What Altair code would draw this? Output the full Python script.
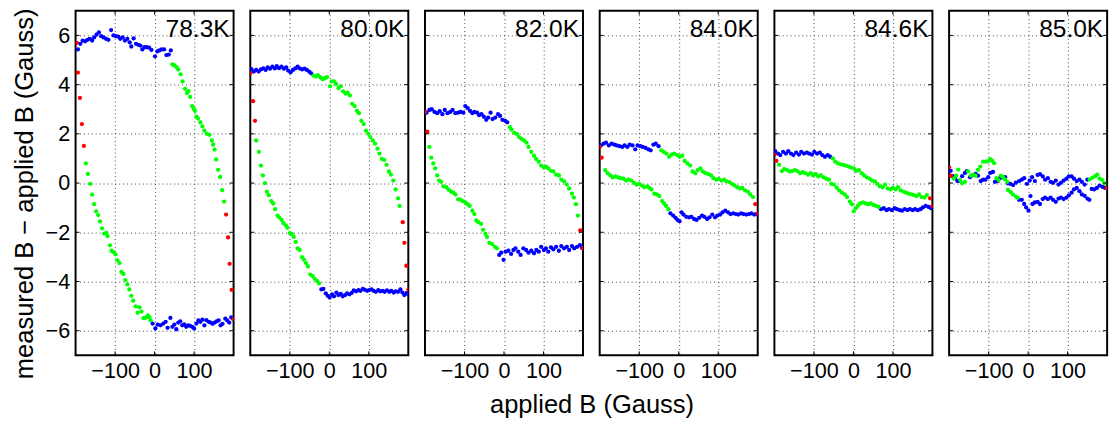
import altair as alt
import pandas as pd

FONT = "Liberation Sans"

panel_labels = ["78.3K", "80.0K", "82.0K", "84.0K", "84.6K", "85.0K"]
x_ticks = [-100, 0, 100]
y_ticks = [-6, -4, -2, 0, 2, 4, 6]
x_title = "applied B (Gauss)"
y_title = "measured B \u2212 applied B (Gauss)"

# ---------------- 78.3K ----------------
red_783 = [(-197, 5.70), (-194, 4.49), (-189, 3.46), (-184, 2.40), (-179, 1.51),
           (181, -1.28), (186, -2.21), (190, -3.28), (195, -4.34), (200, -5.52)]
blue_783 = [(-194, 5.43), (-188, 5.66), (-182, 5.79), (-176, 5.76), (-170, 5.82), (-164, 5.86),
            (-158, 5.79), (-153, 5.92), (-147, 6.03), (-141, 6.12), (-135, 5.97), (-129, 5.92),
            (-123, 5.86), (-117, 5.82), (-110, 6.22), (-104, 6.00), (-98, 5.97), (-92, 5.95),
            (-87, 5.86), (-81, 5.92), (-75, 5.79), (-69, 5.86), (-63, 5.72), (-59, 5.55),
            (-53, 5.88), (-47, 5.66), (-41, 5.62), (-36, 5.59), (-31, 5.43), (-26, 5.52),
            (-20, 5.52), (-14, 5.50), (-8, 5.41), (1, 5.15), (7, 5.35), (12, 5.39), (18, 5.43),
            (24, 5.43), (30, 5.20), (36, 5.22), (41, 5.39),
            (199, -5.52), (194, -5.46), (189, -5.67), (184, -5.58), (179, -5.51), (172, -5.72),
            (167, -5.78), (162, -5.58), (157, -5.62), (152, -5.67), (147, -5.72), (142, -5.67),
            (137, -5.64), (131, -5.57), (126, -5.78), (121, -5.55), (116, -5.64), (111, -5.58),
            (106, -5.71), (100, -5.91), (95, -5.84), (90, -5.80), (85, -5.78), (80, -5.84),
            (75, -5.74), (70, -5.78), (65, -5.62), (60, -5.67), (55, -5.94), (50, -5.75),
            (45, -5.84), (40, -5.48), (33, -5.88), (28, -5.64), (22, -5.71), (15, -5.78),
            (8, -5.75), (2, -5.91), (-5, -5.71)]
green_783 = [(45, 4.82), (50, 4.78), (55, 4.72), (60, 4.62), (66, 4.42), (71, 4.13), (77, 3.83),
             (82, 3.66), (86, 3.74), (90, 3.50), (95, 3.13), (99, 3.02), (102, 2.93), (106, 2.70),
             (110, 2.62), (116, 2.47), (121, 2.30), (126, 2.13), (132, 2.00), (139, 1.96),
             (145, 1.73), (148, 1.56), (152, 1.36), (156, 0.96), (161, 0.54), (166, 0.25),
             (171, -0.29), (176, -0.75),
             (-10, -5.58), (-13, -5.45), (-17, -5.38), (-22, -5.47), (-28, -5.49), (-33, -5.22),
             (-38, -5.05), (-43, -5.27), (-48, -5.01), (-54, -4.78), (-59, -4.58), (-64, -4.32),
             (-69, -4.12), (-74, -3.94), (-79, -3.69), (-84, -3.61), (-89, -3.25), (-94, -3.14),
             (-99, -2.90), (-104, -2.81), (-109, -2.75), (-113, -2.53), (-119, -2.16),
             (-122, -2.02), (-128, -2.05), (-133, -1.84), (-138, -1.56), (-143, -1.30),
             (-148, -1.15), (-153, -0.86), (-158, -0.47), (-163, -0.03), (-169, 0.37), (-174, 0.80)]

# ---------------- 80.0K ----------------
red_800 = [(-200, 4.46), (-193, 3.33), (-188, 2.53), (186, -1.59), (190, -2.43), (195, -3.36),
           (200, -4.34)]
blue_800 = [(-197, 4.63), (-191, 4.53), (-185, 4.60), (-179, 4.53), (-173, 4.62), (-167, 4.66),
            (-161, 4.60), (-156, 4.70), (-150, 4.65), (-144, 4.73), (-138, 4.66), (-133, 4.75),
            (-127, 4.67), (-121, 4.73), (-115, 4.65), (-109, 4.70), (-104, 4.57), (-98, 4.50),
            (-92, 4.60), (-86, 4.66), (-80, 4.73), (-75, 4.66), (-69, 4.62), (-63, 4.65),
            (-57, 4.60), (-51, 4.53), (-46, 4.46),
            (200, -4.52), (195, -4.47), (190, -4.55), (185, -4.45), (180, -4.32), (174, -4.42),
            (168, -4.40), (163, -4.45), (157, -4.38), (152, -4.42), (146, -4.36), (140, -4.42),
            (135, -4.38), (129, -4.40), (124, -4.35), (118, -4.42), (112, -4.38), (107, -4.32),
            (101, -4.35), (96, -4.38), (90, -4.34), (85, -4.30), (79, -4.38), (74, -4.35),
            (68, -4.40), (62, -4.36), (57, -4.46), (51, -4.52), (45, -4.48), (40, -4.55),
            (34, -4.60), (29, -4.50), (23, -4.55), (18, -4.45), (12, -4.60), (7, -4.52),
            (1, -4.65), (-4, -4.58), (-9, -4.48), (-15, -4.30), (-20, -4.32)]
green_800 = [(-40, 4.37), (-34, 4.33), (-29, 4.39), (-23, 4.30), (-17, 4.22), (-12, 4.26),
             (-6, 4.30), (2, 3.93), (6, 4.13), (12, 4.13), (17, 4.03), (23, 3.86), (29, 3.93),
             (35, 3.73), (41, 3.64), (46, 3.68), (52, 3.56), (58, 3.22), (64, 3.13), (70, 2.93),
             (75, 2.84), (81, 2.53), (87, 2.40), (93, 2.13), (99, 2.00), (104, 1.87), (110, 1.73),
             (116, 1.60), (122, 1.40), (127, 1.20), (133, 0.98), (139, 0.94), (145, 0.74),
             (151, 0.47), (156, 0.34), (162, 0.10), (168, -0.26), (174, -0.62), (178, -0.93),
             (-26, -4.08), (-31, -3.98), (-37, -3.89), (-42, -3.78), (-48, -3.72), (-54, -3.39),
             (-59, -3.25), (-64, -3.12), (-69, -3.01), (-75, -2.72), (-80, -2.65), (-85, -2.39),
             (-90, -2.19), (-95, -2.06), (-100, -2.03), (-106, -1.82), (-110, -1.72),
             (-116, -1.63), (-121, -1.50), (-127, -1.39), (-131, -1.32), (-137, -1.06),
             (-142, -0.83), (-147, -0.73), (-153, -0.49), (-158, -0.35), (-163, 0.00),
             (-168, 0.31), (-173, 0.71), (-178, 1.27), (-185, 1.73)]

# ---------------- 82.0K ----------------
red_820 = [(-200, 2.89), (-194, 2.09), (193, -1.92), (199, -2.65)]
blue_820 = [(-196, 2.86), (-189, 2.97), (-183, 3.00), (-176, 2.89), (-169, 2.84), (-163, 2.92),
            (-156, 2.80), (-150, 2.97), (-143, 2.84), (-136, 2.89), (-130, 2.97), (-123, 2.84),
            (-116, 2.86), (-110, 2.89), (-103, 2.86), (-98, 3.13), (-92, 3.05), (-86, 2.93),
            (-80, 2.84), (-75, 2.89), (-68, 2.86), (-63, 2.76), (-57, 2.80), (-51, 2.70),
            (-45, 2.57), (-40, 2.66), (-34, 2.86), (-29, 2.60), (-22, 2.66), (-15, 2.80),
            (-10, 2.73), (-4, 2.57), (3, 2.53), (8, 2.47),
            (-12, -2.92), (-7, -2.83), (-1, -3.12), (4, -2.79), (11, -2.75), (18, -2.88),
            (24, -2.72), (29, -2.65), (36, -2.79), (42, -2.92), (49, -2.65), (56, -2.72),
            (62, -2.83), (69, -2.75), (76, -2.85), (82, -2.72), (88, -2.79), (94, -2.59),
            (101, -2.72), (106, -2.65), (112, -2.79), (119, -2.61), (125, -2.69), (132, -2.59),
            (139, -2.75), (145, -2.56), (152, -2.65), (159, -2.59), (165, -2.72), (172, -2.56),
            (178, -2.65), (185, -2.59), (192, -2.52), (197, -2.63)]
green_820 = [(15, 2.27), (19, 2.17), (26, 2.04), (33, 1.99), (38, 1.87), (44, 1.80), (51, 1.73),
             (57, 1.64), (62, 1.47), (69, 1.27), (76, 1.11), (81, 0.98), (88, 0.87), (94, 0.71),
             (101, 0.63), (106, 0.67), (112, 0.60), (119, 0.50), (125, 0.47), (132, 0.34),
             (139, 0.31), (145, 0.14), (152, 0.07), (159, -0.06), (165, -0.22), (172, -0.43),
             (177, -0.59), (182, -0.86), (187, -1.32),
             (-18, -2.65), (-23, -2.59), (-30, -2.48), (-37, -2.43), (-43, -2.19), (-47, -2.06),
             (-53, -1.90), (-58, -1.66), (-65, -1.59), (-70, -1.52), (-75, -1.26), (-80, -1.12),
             (-87, -0.93), (-92, -0.86), (-98, -0.79), (-105, -0.73), (-110, -0.67),
             (-116, -0.66), (-123, -0.46), (-128, -0.39), (-134, -0.35), (-140, -0.27),
             (-146, -0.17), (-153, -0.13), (-159, 0.05), (-164, 0.10), (-169, 0.31),
             (-174, 0.60), (-179, 0.80), (-184, 1.03), (-189, 1.47)]

# ---------------- 84.0K ----------------
red_840 = [(-200, 1.47), (-195, 1.03), (194, -0.86), (200, -1.24)]
blue_840 = [(-197, 1.53), (-190, 1.60), (-184, 1.64), (-177, 1.53), (-170, 1.60), (-163, 1.56),
            (-157, 1.53), (-150, 1.50), (-143, 1.47), (-137, 1.53), (-130, 1.47), (-124, 1.56),
            (-117, 1.53), (-110, 1.37), (-104, 1.53), (-97, 1.50), (-91, 1.47), (-84, 1.43),
            (-77, 1.37), (-71, 1.33), (-64, 1.56), (-58, 1.60), (-51, 1.50),
            (196, -1.26), (191, -1.28), (184, -1.23), (178, -1.26), (171, -1.28), (164, -1.26),
            (158, -1.23), (151, -1.28), (145, -1.26), (138, -1.23), (131, -1.26), (125, -1.19),
            (118, -1.12), (111, -1.19), (105, -1.28), (98, -1.32), (92, -1.39), (85, -1.28),
            (78, -1.39), (72, -1.46), (65, -1.37), (59, -1.32), (52, -1.41), (45, -1.50),
            (39, -1.46), (32, -1.37), (26, -1.39), (19, -1.37), (12, -1.28), (7, -1.19),
            (2, -1.55), (-3, -1.50), (-8, -1.41), (-14, -1.32), (-21, -1.23)]
green_840 = [(-44, 1.33), (-38, 1.27), (-31, 1.20), (-24, 1.07), (-18, 1.16), (-11, 1.20),
             (-4, 1.14), (2, 1.07), (9, 1.11), (15, 0.90), (22, 0.80), (29, 0.71), (35, 0.47),
             (42, 0.40), (48, 0.53), (55, 0.60), (61, 0.47), (68, 0.40), (75, 0.36), (82, 0.31),
             (88, 0.20), (95, 0.14), (101, 0.17), (108, 0.10), (115, 0.14), (121, 0.07),
             (128, 0.04), (135, -0.03), (141, -0.09), (148, -0.17), (155, -0.22), (161, -0.20),
             (168, -0.30), (175, -0.35), (181, -0.46), (188, -0.57),
             (-26, -1.06), (-32, -0.93), (-37, -0.83), (-42, -0.73), (-49, -0.53), (-55, -0.46),
             (-62, -0.43), (-69, -0.26), (-75, -0.19), (-80, -0.13), (-87, -0.17), (-94, -0.09),
             (-100, -0.03), (-107, -0.06), (-113, 0.01), (-120, 0.10), (-127, 0.14),
             (-133, 0.10), (-140, 0.18), (-147, 0.20), (-153, 0.23), (-160, 0.27), (-167, 0.23),
             (-173, 0.31), (-180, 0.40), (-186, 0.53)]

# ---------------- 84.6K ----------------
red_846 = [(-200, 1.16), (-195, 0.90), (194, -0.62), (200, -0.93)]
blue_846 = [(-198, 1.30), (-191, 1.20), (-185, 1.14), (-178, 1.27), (-171, 1.20), (-165, 1.30),
            (-158, 1.20), (-152, 1.14), (-145, 1.24), (-138, 1.16), (-132, 1.27), (-125, 1.20),
            (-118, 1.24), (-112, 1.20), (-105, 1.16), (-99, 1.27), (-92, 1.20), (-85, 1.24),
            (-79, 1.14), (-72, 1.07), (-65, 1.14), (-59, 1.07),
            (196, -1.02), (190, -0.97), (183, -0.93), (176, -0.99), (170, -1.06), (163, -1.10),
            (156, -1.06), (150, -1.10), (143, -1.06), (137, -1.10), (130, -1.06), (123, -1.12),
            (117, -1.10), (110, -1.06), (104, -1.02), (97, -1.10), (90, -1.06), (84, -1.10),
            (77, -1.02), (70, -1.06)]
green_846 = [(-52, 1.00), (-46, 0.87), (-39, 0.80), (-32, 0.76), (-26, 0.74), (-19, 0.71),
             (-12, 0.67), (-6, 0.63), (1, 0.60), (7, 0.50), (14, 0.53), (21, 0.40), (27, 0.31),
             (34, 0.23), (41, 0.18), (47, 0.10), (54, 0.07), (60, -0.03), (67, -0.13),
             (74, -0.17), (80, -0.06), (87, -0.22), (94, -0.26), (100, -0.19), (107, -0.26),
             (113, -0.17), (120, -0.30), (127, -0.35), (133, -0.39), (140, -0.43), (147, -0.46),
             (153, -0.49), (160, -0.53), (166, -0.46), (173, -0.57), (180, -0.59), (186, -0.49),
             (64, -0.97), (57, -0.93), (51, -0.89), (44, -0.83), (37, -0.86), (31, -0.83),
             (24, -0.79), (17, -0.83), (11, -0.93), (6, -1.02), (1, -1.15), (-4, -0.86),
             (-9, -0.75), (-16, -0.57), (-22, -0.46), (-29, -0.39), (-36, -0.30), (-42, -0.19),
             (-49, -0.06), (-56, -0.03), (-62, 0.14), (-69, 0.18), (-75, 0.23), (-82, 0.31),
             (-89, 0.27), (-95, 0.36), (-102, 0.31), (-108, 0.40), (-115, 0.34), (-122, 0.40),
             (-128, 0.44), (-135, 0.40), (-142, 0.49), (-148, 0.53), (-155, 0.49), (-161, 0.47),
             (-168, 0.53), (-175, 0.57), (-181, 0.49), (-188, 0.74)]

# ---------------- 85.0K ----------------
red_850 = [(-200, 0.64), (-195, 0.30), (199, -0.20)]
blue_850 = [(-196, 0.50), (-191, 0.28), (-185, 0.19), (-179, 0.08), (-173, 0.10), (-167, 0.28),
            (-160, 0.41), (-155, 0.48), (-147, 0.24), (-140, 0.32), (-133, 0.37), (-127, 0.30),
            (-120, 0.08), (-114, 0.14), (-108, 0.14), (-101, 0.24), (-96, 0.41), (-89, 0.45),
            (-84, 0.05), (-77, 0.08), (-71, 0.20), (-64, 0.24), (-58, 0.24), (-51, -0.01),
            (-45, -0.03), (-38, -0.08), (-31, 0.02), (-23, 0.08), (-16, 0.14), (-10, 0.20),
            (-3, -0.03), (4, 0.10), (10, 0.24), (17, 0.08), (24, 0.33), (30, 0.36), (37, 0.27),
            (43, 0.14), (50, 0.20), (57, 0.05), (63, 0.01), (70, 0.10), (77, -0.06), (83, 0.01),
            (90, 0.10), (97, 0.18), (103, 0.27), (110, 0.27), (116, 0.18), (123, 0.08),
            (130, 0.14), (136, 0.05), (143, -0.06), (150, 0.14),
            (-23, -0.68), (-16, -0.68), (-10, -0.85), (-5, -0.99), (1, -1.12), (6, -0.53),
            (11, -0.85), (17, -0.79), (24, -0.76), (30, -0.85), (37, -0.65), (43, -0.59),
            (50, -0.65), (57, -0.59), (63, -0.68), (70, -0.76), (77, -0.63), (83, -0.59),
            (90, -0.65), (97, -0.59), (103, -0.50), (110, -0.39), (116, -0.26), (123, -0.20),
            (130, -0.33), (136, -0.46), (143, -0.52), (150, -0.63), (155, -0.68),
            (161, -0.24), (167, -0.26), (174, -0.20), (181, -0.10), (188, -0.15), (194, -0.19)]
green_850 = [(-188, 0.19), (-182, 0.30), (-177, 0.55), (-172, 0.12), (-167, -0.01), (-160, 0.05),
             (-152, 0.47), (-145, 0.30), (-139, 0.34), (-133, 0.30), (-127, 0.54), (-121, 0.67),
             (-114, 0.87), (-108, 0.87), (-102, 0.88), (-96, 0.97), (-91, 0.91), (-86, 0.81),
             (-80, 0.20), (-75, 0.12), (-69, 0.30), (-64, 0.25), (-59, 0.16), (-53, 0.05),
             (-51, -0.28), (-44, -0.37), (-38, -0.47), (-31, -0.55), (-26, -0.60),
             (156, 0.15), (163, 0.22), (170, 0.28), (175, 0.34), (181, 0.18), (188, 0.12),
             (193, -0.01)]

panel_data = [
    (red_783, green_783, blue_783),
    (red_800, green_800, blue_800),
    (red_820, green_820, blue_820),
    (red_840, green_840, blue_840),
    (red_846, green_846, blue_846),
    (red_850, green_850, blue_850),
]

W, H = 161, 351
GRID = dict(grid=True, gridDash=[1, 3], gridColor="#444444", gridWidth=1)
x_scale = alt.Scale(domain=[-200, 200], nice=False, zero=False)
y_scale = alt.Scale(domain=[-7, 7], nice=False, zero=False)


def make_axes(first):
    xa = alt.Axis(values=x_ticks, title=None, labelFontSize=22, labelColor="black",
                  labelPadding=6, ticks=False, tickSize=0, domain=False, labelFlush=False,
                  labelFont=FONT, **GRID)
    if first:
        ya = alt.Axis(values=y_ticks, title=y_title, labelFontSize=22, labelColor="black",
                      labelPadding=6, ticks=False, tickSize=0, domain=False, labelFont=FONT,
                      titleFont=FONT, titleFontSize=26, titleFontWeight="normal",
                      titleColor="black", titlePadding=8, titleY=186, **GRID)
    else:
        ya = alt.Axis(values=y_ticks, title=None, labels=False, ticks=False, tickSize=0,
                      domain=False, **GRID)
    return xa, ya


charts = []
for i, (label, (reds, greens, blues)) in enumerate(zip(panel_labels, panel_data)):
    rows = ([{"x": a, "y": b, "c": "g"} for a, b in greens]
            + [{"x": a, "y": b, "c": "b"} for a, b in blues]
            + [{"x": a, "y": b, "c": "r"} for a, b in reds])
    df = pd.DataFrame(rows)
    xa, ya = make_axes(i == 0)
    pts = alt.Chart(df).mark_circle(size=19, opacity=1, clip=True).encode(
        x=alt.X("x:Q", scale=x_scale, axis=xa),
        y=alt.Y("y:Q", scale=y_scale, axis=ya),
        color=alt.Color("c:N", scale=alt.Scale(domain=["r", "g", "b"],
                                               range=["#ff0000", "#00ff00", "#0000ff"]),
                        legend=None),
        order=alt.Order("c:N"),
    )
    ytk = pd.DataFrame({"y": y_ticks})
    xtk = pd.DataFrame({"x": x_ticks})
    yt_left = alt.Chart(ytk).mark_rule(color="black", strokeWidth=1).encode(
        y=alt.Y("y:Q", scale=y_scale, axis=ya), x=alt.value(0), x2=alt.value(4))
    yt_right = alt.Chart(ytk).mark_rule(color="black", strokeWidth=1).encode(
        y=alt.Y("y:Q", scale=y_scale, axis=ya), x=alt.value(W - 4), x2=alt.value(W))
    xt_bot = alt.Chart(xtk).mark_rule(color="black", strokeWidth=1).encode(
        x=alt.X("x:Q", scale=x_scale, axis=xa), y=alt.value(H - 4), y2=alt.value(H))
    xt_top = alt.Chart(xtk).mark_rule(color="black", strokeWidth=1).encode(
        x=alt.X("x:Q", scale=x_scale, axis=xa), y=alt.value(0), y2=alt.value(4))
    txt = alt.Chart(pd.DataFrame({"t": [label]})).mark_text(
        align="right", baseline="alphabetic", fontSize=25, font=FONT, color="black"
    ).encode(x=alt.value(W - 4), y=alt.value(27), text="t:N")
    charts.append(alt.layer(pts, yt_left, yt_right, xt_bot, xt_top, txt).properties(
        width=W, height=H))

chart = alt.hconcat(*charts, spacing=13).properties(
    title=alt.TitleParams(x_title, orient="bottom", anchor="middle", fontSize=26,
                          font=FONT, fontWeight="normal", color="black", offset=10, dx=33),
    padding={"left": 10, "top": 3, "right": 5, "bottom": 5},
).configure(font=FONT).configure_view(stroke="black", strokeWidth=2)

chart.save("out.html", embed_options={"renderer": "svg", "actions": False})
